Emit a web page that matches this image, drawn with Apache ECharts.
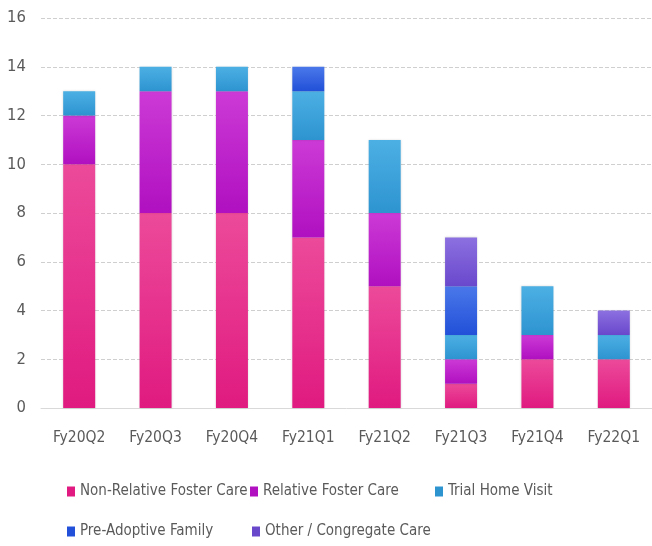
<!DOCTYPE html>
<html>
<head>
<meta charset="utf-8">
<script src="https://cdn.jsdelivr.net/npm/echarts@6/dist/echarts.min.js"></script>
<style>
html,body{margin:0;padding:0;background:#fff}
#main{width:652px;height:546px}
</style>
</head>
<body>
<div id="main"></div>
<script>
var categories=['Fy20Q2','Fy20Q3','Fy20Q4','Fy21Q1','Fy21Q2','Fy21Q3','Fy21Q4','Fy22Q1']
var seriesNames=['Non-Relative Foster Care','Relative Foster Care','Trial Home Visit','Pre-Adoptive Family','Other / Congregate Care']
var nonRelative=[10,8,8,7,5,1,2,2]
var relative=[2,5,5,4,3,1,1,0]
var trialHome=[1,1,1,2,3,1,2,1]
var preAdoptive=[0,0,0,1,0,2,0,0]
var otherCongregate=[0,0,0,0,0,2,0,1]
var yTicks=[0,2,4,6,8,10,12,14,16]

// 每个系列: 上浅下深
var colors=[
    ['#ec4a9a','#e01a80'],
    ['#cc3ad6','#b010c0'],
    ['#4cb0e4','#2e94d0'],
    ['#4a78ea','#2250d8'],
    ['#8c70e0','#6a48cc']
]
var allData=[nonRelative,relative,trialHome,preAdoptive,otherCongregate]
var font="'DejaVu Sans Condensed', 'Liberation Sans Narrow', 'Arial Narrow', Roboto, sans-serif"

function grad(c){
    return new echarts.graphic.LinearGradient(0,0,0,1,[{offset:0,color:c[0]},{offset:1,color:c[1]}])
}

function each(arr,fn){for(var i=0;i<arr.length;i++)fn(i,arr[i])}

var series=[]
each(seriesNames,function(i,name){
    series.push({
        name:name,
        type:'bar',
        stack:'total',
        barWidth:32,
        data:allData[i].map(function(v){return v===0?'-':v}),
        itemStyle:{color:grad(colors[i]),shadowColor:'rgba(0,0,0,0.15)',shadowBlur:2},
        emphasis:{disabled:true}
    })
})

// 图例位置
var legendPos=[[67,484],[250,484],[435,484],[67,524],[252,524]]
var legends=[]
each(seriesNames,function(i,name){
    legends.push({
        data:[{name:name,itemStyle:{color:colors[i][1]}}],
        left:legendPos[i][0],
        top:legendPos[i][1],
        padding:0,
        icon:'rect',
        itemWidth:8,
        itemHeight:10,
        itemGap:0,
        selectedMode:false,
        textStyle:{fontFamily:font,fontSize:15,color:'#5a5a5a',padding:[0,0,0,0]}
    })
})

var myChart=echarts.init(document.getElementById('main'))
var option={
    animation:false,
    legend:legends,
    grid:{left:41,top:18,width:616,height:390,containLabel:false},
    xAxis:{
        type:'category',
        data:categories,
        axisLine:{show:true,lineStyle:{color:'#d9d9d9'}},
        axisTick:{show:false},
        axisLabel:{fontFamily:font,fontSize:15.5,color:'#5a5a5a',margin:22}
    },
    yAxis:{
        type:'value',
        min:yTicks[0],
        max:yTicks[yTicks.length-1],
        interval:2,
        axisLine:{show:false},
        axisTick:{show:false},
        axisLabel:{fontFamily:font,fontSize:16.5,color:'#5a5a5a',margin:15},
        splitLine:{lineStyle:{color:'#cfcfcf',type:[4,2]}}
    },
    series:series
}
myChart.setOption(option)
</script>
</body>
</html>
